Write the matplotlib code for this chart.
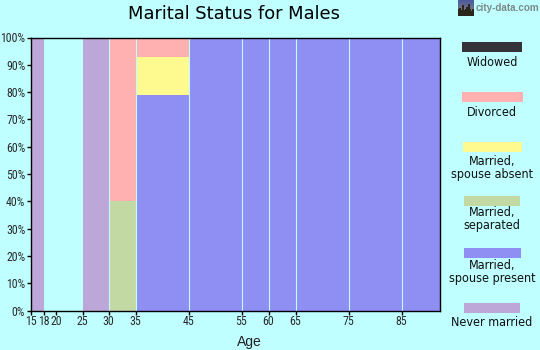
import matplotlib
matplotlib.use('Agg')
import matplotlib.pyplot as plt
import numpy as np

bg = '#BFFFFF'

# age groups: lower and upper edge
age_start = [15, 18, 25, 30, 35, 45, 55, 60, 65, 75, 85]
age_end = [18, 25, 30, 35, 45, 55, 60, 65, 75, 85, 92.2]

# share of each status per age group, percent
never_married = [100, 0, 100, 0, 0, 0, 0, 0, 0, 0, 0]
spouse_present = [0, 0, 0, 0, 79, 100, 100, 100, 100, 100, 100]
separated = [0, 0, 0, 40, 0, 0, 0, 0, 0, 0, 0]
spouse_absent = [0, 0, 0, 0, 14, 0, 0, 0, 0, 0, 0]
divorced = [0, 0, 0, 60, 7, 0, 0, 0, 0, 0, 0]
widowed = [0, 0, 0, 0, 0, 0, 0, 0, 0, 0, 0]

series = [never_married, spouse_present, separated, spouse_absent, divorced, widowed]
colors = ['#BDA6D8', '#8F8FF3', '#C3D9A3', '#FFFA90', '#FFB0B0', '#333339']
legend_labels = ['Never married', 'Married,\nspouse present', 'Married,\nseparated',
                 'Married,\nspouse absent', 'Divorced', 'Widowed']

x_ticks = [15, 18, 20, 25, 30, 35, 45, 55, 60, 65, 75, 85]
y_ticks = list(range(0, 101, 10))

# the original age axis is not quite linear, pixel position of each age
scale_age = [15, 18, 20, 25, 30, 35, 45, 55, 60, 65, 75, 85, 92.2]
scale_px = [30.5, 44, 56.3, 82.7, 108.5, 135.5, 188.5, 241.5, 268.5, 295.5, 348.5, 401.5, 439.5]

W, H = 540, 350


def fx(px):
    return px / W


def fy(py):
    return 1 - py / H


def age_to_px(a):
    return np.interp(a, scale_age, scale_px)


def px_to_age(p):
    return np.interp(p, scale_px, scale_age)


fig = plt.figure(figsize=(5.4, 3.5), dpi=100, facecolor=bg)
ax = fig.add_axes([fx(30.5), fy(310.5), (439.5 - 30.5) / W, (310.5 - 37.5) / H], facecolor=bg)
ax.set_xscale('function', functions=(age_to_px, px_to_age))

widths = np.array(age_end) - np.array(age_start)
bottom = np.zeros(len(age_start))
for vals, c in zip(series, colors):
    ax.bar(age_start, vals, width=widths, bottom=bottom, align='edge', color=c, linewidth=0)
    bottom += np.array(vals)

# thin pale separators between the filled columns
for x in x_ticks[4:]:
    ax.axvline(x, color=bg, lw=0.8, zorder=3)

ax.set_xlim(15, 92.2)
ax.set_ylim(0, 100)
ax.set_xticks(x_ticks)
ax.set_xticks([], minor=True)
ax.set_xticklabels([str(v) for v in x_ticks])
ax.set_yticks(y_ticks)
ax.set_yticklabels([f'{v}%' for v in y_ticks])
ax.tick_params(axis='both', length=3, width=1, color='black', labelcolor='#2a2a2a', labelsize=8.6)
ax.tick_params(axis='x', pad=0.5)
ax.tick_params(axis='y', pad=0.8)
for lab in ax.get_xticklabels() + ax.get_yticklabels():
    lab.set_fontfamily('Roboto Condensed')
for s in ax.spines.values():
    s.set_linewidth(1.0)
    s.set_color('black')
    s.set_zorder(5)

fig.text(fx(234), fy(14), 'Marital Status for Males', ha='center', va='center', fontsize=12.9, color='black')
fig.text(fx(249), fy(342), 'Age', ha='center', va='center', fontsize=10, color='#222222',
         family='Liberation Sans')

# legend drawn by hand, top to bottom
swatch_y = [47, 97, 147, 201, 253, 308]
swatch_x = [462, 462, 463, 464, 464, 464]
swatch_w = [60, 61, 59, 56, 57, 56]
label_y = [62, 112, 168, 219, 272, 323]
order = [5, 4, 3, 2, 1, 0]
for i, k in enumerate(order):
    fig.add_artist(plt.Rectangle((fx(swatch_x[i]), fy(swatch_y[i] + 5)), swatch_w[i] / W, 10 / H,
                                 transform=fig.transFigure, color=colors[k], lw=0))
    fig.text(fx(492), fy(label_y[i]), legend_labels[k], ha='center', va='center', fontsize=9.0,
             color='#111111', linespacing=1.0, family='DejaVu Sans', stretch='condensed')

# city-data logo: dusk sky over a dark skyline
sky = np.linspace(0, 1, 16).reshape(-1, 1, 1)
logo_img = np.tile((1 - sky) * np.array([0.30, 0.36, 0.62]) + sky * np.array([0.55, 0.50, 0.45]), (1, 16, 1))
skyline = [9, 8, 8, 10, 5, 5, 10, 9, 7, 7, 4, 4, 9, 11, 9, 9]
for col, top in enumerate(skyline):
    logo_img[top:, col] = [0.17, 0.15, 0.11]
logo = fig.add_axes([fx(458), fy(16), 16 / W, 16 / H])
logo.imshow(logo_img, aspect='auto', interpolation='nearest')
logo.axis('off')
fig.text(fx(476), fy(8), 'city-data.com', ha='left', va='center', fontsize=7.1, color='#7d8a8a',
         fontweight='bold', family='Liberation Sans')

fig.savefig('out.png', dpi=100, facecolor=bg)
